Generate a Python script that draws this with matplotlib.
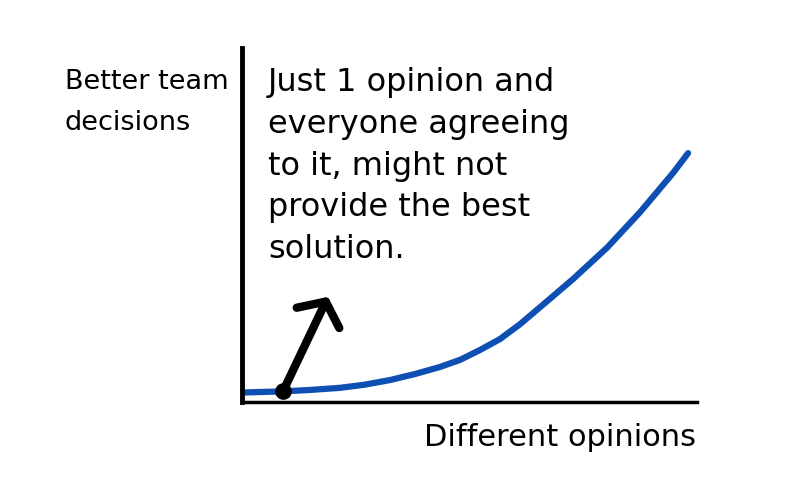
import numpy as np
import matplotlib
matplotlib.use("Agg")
import matplotlib.pyplot as plt

# curve (x: different opinions, y: better decisions, 0-10 scale)
opinions = [0.07, 0.90, 1.49, 2.15, 2.70, 3.25, 3.80, 4.35, 4.79, 5.23,
            5.67, 6.11, 6.55, 7.27, 8.02, 8.75, 9.47, 9.80]
decisions = [0.27, 0.30, 0.34, 0.40, 0.49, 0.62, 0.79, 0.99, 1.19, 1.47,
             1.78, 2.20, 2.68, 3.47, 4.36, 5.37, 6.47, 7.03]

# the single-opinion point and where its arrow points
one_opinion = (0.90, 0.30)
arrow_tip = (1.89, 2.97)

y_label = "Better team\ndecisions"
x_label = "Different opinions"
note = ("Just 1 opinion and\neveryone agreeing\nto it, might not\n"
        "provide the best\nsolution.")

fig = plt.figure(figsize=(8, 5), dpi=100)
ax = fig.add_axes([0.3025, 0.196, 0.569, 0.708])
ax.set_xlim(0, 10)
ax.set_ylim(0, 10)

for s in ["top", "right"]:
    ax.spines[s].set_visible(False)
ax.spines["left"].set_linewidth(3.5)
ax.spines["bottom"].set_linewidth(2.5)
ax.set_xticks([])
ax.set_yticks([])

ax.plot(opinions, decisions, color="#0d4fb3", lw=4.5,
        solid_capstyle="round", solid_joinstyle="round")

ax.annotate("", xy=arrow_tip, xytext=one_opinion,
            arrowprops=dict(arrowstyle="->,head_length=1.3,head_width=1.7",
                            lw=6, color="black", capstyle="round",
                            joinstyle="round", shrinkA=0, shrinkB=0))
ax.plot(*one_opinion, "o", color="black", ms=11, zorder=5)

fig.text(0.081, 0.862, y_label, fontsize=19.5, va="top", ha="left",
         linespacing=1.75)
fig.text(0.335, 0.866, note, fontsize=23, va="top", ha="left",
         linespacing=1.45)
fig.text(0.53, 0.126, x_label, fontsize=22, va="center", ha="left")

fig.savefig("out.png", dpi=100)
